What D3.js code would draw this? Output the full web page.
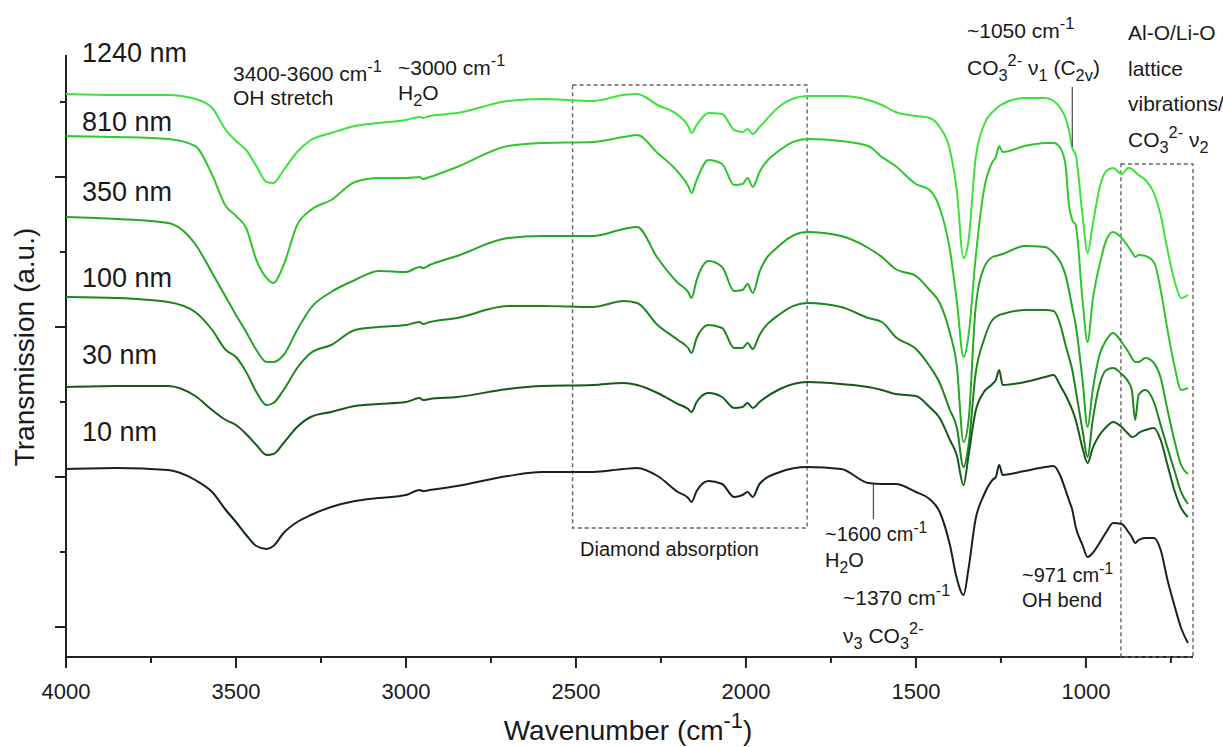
<!DOCTYPE html>
<html>
<head>
<meta charset="utf-8">
<script src="https://cdn.jsdelivr.net/npm/d3@7"></script>
<style>
  body { margin: 0; background: #fff; }
  text { font-family: "Liberation Sans", Arial, sans-serif; fill: #1a1a1a; }
</style>
</head>
<body>
<script>
// wavenumber grid (cm-1), shared by every spectrum
var wavenumber = [4000,3850,3700,3620,3570,3530,3500,3470,3440,3410,
  3390,3360,3320,3280,3220,3150,3080,3000,2960,2950,
  2930,2850,2700,2600,2450,2360,2320,2260,2200,2170,
  2160,2145,2110,2070,2035,2010,1995,1980,1960,1900,
  1820,1720,1640,1600,1560,1500,1460,1430,1400,1380,
  1360,1345,1325,1300,1275,1265,1255,1245,1180,1120,
  1095,1075,1060,1050,1040,1030,1010,995,980,960,
  940,920,895,875,865,855,845,825,800,780,
  760,740,720,700];

// transmission (a.u., curves already offset as in the figure)
var t1240 = [56.3,56.2,56.2,55.8,54.9,52.7,51.6,50.7,49.1,47.5,
  47.4,48.7,50.5,51.7,52.4,53.1,53.4,53.7,54.0,53.9,
  54.1,54.4,55.6,55.8,55.6,56.2,56.3,55.2,54.2,53.1,
  52.4,53.2,54.4,54.3,52.7,52.5,52.8,52.3,53.0,55.1,
  56.1,56.1,55.7,55.2,54.5,54.1,53.9,53.0,50.7,46.7,
  39.9,41.7,49.7,53.2,54.5,54.8,55.1,55.3,55.9,55.9,
  55.6,54.9,53.9,52.7,50.9,50.2,44.2,40.4,43.2,46.9,
  48.6,48.9,48.3,48.9,48.8,48.5,48.2,47.7,46.4,44.2,
  40.7,37.7,35.9,36.2];
var t810 = [52.1,52.0,51.8,51.1,48.2,45.1,44.1,42.9,39.7,37.9,
  37.4,39.2,43.2,44.7,45.7,47.5,47.9,47.9,48.0,47.8,
  48.0,49.0,51.1,51.4,51.5,52.0,52.2,50.4,48.5,47.1,
  46.4,47.7,49.7,49.3,47.2,47.3,47.9,47.0,48.5,50.7,
  51.8,51.6,51.1,50.0,49.1,47.3,46.7,44.9,40.7,35.7,
  30.0,32.2,39.7,46.7,49.5,50.0,51.1,50.5,51.1,51.4,
  51.4,50.9,49.2,45.2,43.7,43.2,35.7,31.5,35.7,39.2,
  41.7,42.5,41.9,41.0,40.5,40.0,40.2,40.1,39.5,36.7,
  32.7,29.2,26.7,26.9];
var t350 = [44.0,43.8,43.4,41.3,38.4,36.0,34.2,32.5,30.7,29.5,
  29.5,30.2,32.7,34.9,36.5,37.7,38.6,38.5,39.0,38.9,
  39.2,40.1,41.9,42.1,42.1,42.8,43.0,39.9,37.4,36.5,
  35.9,37.7,39.6,39.0,36.6,36.7,37.3,36.4,38.5,41.2,
  42.5,42.1,40.9,40.0,38.8,38.1,36.7,35.4,32.4,29.2,
  21.5,23.7,34.7,38.9,40.0,40.1,40.2,40.3,41.1,41.0,
  40.4,39.5,38.2,36.7,34.9,33.2,27.7,23.0,26.7,30.2,
  31.7,32.4,31.5,30.5,29.9,29.5,29.5,29.9,29.4,27.9,
  24.7,21.7,19.2,18.3];
var t100 = [36.0,35.9,35.5,34.5,32.7,30.7,30.0,28.5,26.5,25.2,
  25.4,26.7,28.9,30.4,31.2,32.7,33.0,33.2,33.5,33.3,
  33.5,33.9,35.1,35.1,35.0,35.6,35.4,33.2,31.7,30.9,
  30.4,31.9,33.2,32.9,30.9,30.9,31.4,30.8,32.2,34.3,
  35.4,35.0,33.9,33.5,32.0,30.8,29.1,27.4,24.7,23.0,
  19.0,21.2,28.2,31.7,33.7,34.0,34.2,34.3,34.7,34.7,
  34.6,33.2,31.2,30.0,28.7,26.7,22.7,20.0,23.7,27.2,
  28.7,28.9,28.3,27.5,26.7,23.7,26.2,26.7,25.5,23.2,
  20.9,18.7,16.5,15.3];
var t30 = [27.0,27.1,27.1,26.1,24.7,23.7,23.2,22.3,21.2,20.2,
  20.3,21.4,23.0,24.0,24.5,25.1,25.3,25.5,25.9,25.7,
  25.8,26.0,26.8,27.1,27.2,27.4,27.2,26.4,25.3,24.8,
  24.5,25.5,26.4,26.0,24.9,25.0,25.4,24.9,25.5,26.8,
  27.5,27.3,27.0,26.7,26.3,26.1,25.0,23.9,21.7,20.2,
  17.2,20.2,24.5,26.5,27.3,27.7,28.7,27.2,27.5,28.0,
  28.2,27.1,26.2,25.5,24.7,23.7,20.9,19.4,20.9,22.2,
  23.0,23.5,23.0,22.3,22.0,22.1,22.4,22.7,22.9,21.7,
  19.2,16.7,14.9,14.0];
var t10 = [18.8,18.9,18.7,17.7,16.5,14.7,13.5,12.2,11.1,10.8,
  11.1,12.4,13.5,14.2,15.0,15.6,15.9,16.2,16.7,16.6,
  16.7,17.1,18.1,18.5,18.5,18.8,18.9,18.1,16.5,15.9,
  15.5,16.6,17.6,17.3,16.0,16.2,16.5,16.0,17.3,18.5,
  19.0,18.8,17.4,17.3,17.3,16.5,15.8,14.5,11.2,7.9,
  6.2,8.9,13.7,16.2,17.7,18.0,19.2,18.2,18.6,19.0,
  19.1,18.1,16.7,15.7,14.7,13.0,11.2,10.0,10.4,11.4,
  12.5,13.4,13.3,12.5,12.0,11.4,11.7,11.9,11.9,10.7,
  7.7,5.2,2.9,1.4];

var seriesNames = ["1240 nm", "810 nm", "350 nm", "100 nm", "30 nm", "10 nm"];
var seriesValues = [t1240, t810, t350, t100, t30, t10];
var seriesColors = ["#3de33a", "#2ec82c", "#26a626", "#1d841f", "#17591b", "#13261a"];

var xMajor = [4000, 3500, 3000, 2500, 2000, 1500, 1000];
var xMinor = [3750, 3250, 2750, 2250, 1750, 1250, 750];
var yMajor = [3, 18, 33, 48];
var yMinor = [10.5, 25.5, 40.5, 55.5];

var width = 1223, height = 747;

var svg = d3.select("body").append("svg")
    .attr("width", width)
    .attr("height", height);

var x = d3.scaleLinear().domain([4000, 685]).range([66, 1193]);
var y = d3.scaleLinear().domain([0, 60.2]).range([657, 55]);

// axes
var xAxis = svg.append("g").attr("transform", "translate(0," + y(0) + ")");
xAxis.append("line").attr("x1", x(4000)).attr("x2", x(685))
    .attr("stroke", "#222").attr("stroke-width", 2);
xAxis.selectAll(".maj").data(xMajor).enter().append("line")
    .attr("x1", function(d){ return x(d); }).attr("x2", function(d){ return x(d); })
    .attr("y1", 0).attr("y2", 11).attr("stroke", "#222").attr("stroke-width", 2);
xAxis.selectAll(".min").data(xMinor).enter().append("line")
    .attr("x1", function(d){ return x(d); }).attr("x2", function(d){ return x(d); })
    .attr("y1", 0).attr("y2", 6).attr("stroke", "#222").attr("stroke-width", 2);
xAxis.selectAll(".lab").data(xMajor).enter().append("text")
    .attr("x", function(d){ return x(d); }).attr("y", 42)
    .attr("text-anchor", "middle").style("font-size", "22px")
    .text(function(d){ return d; });

var yAxis = svg.append("g").attr("transform", "translate(" + x(4000) + ",0)");
yAxis.append("line").attr("y1", y(0)).attr("y2", y(60.2))
    .attr("stroke", "#222").attr("stroke-width", 2);
yAxis.selectAll(".maj").data(yMajor).enter().append("line")
    .attr("y1", function(d){ return y(d); }).attr("y2", function(d){ return y(d); })
    .attr("x1", 0).attr("x2", -11).attr("stroke", "#222").attr("stroke-width", 2);
yAxis.selectAll(".min").data(yMinor).enter().append("line")
    .attr("y1", function(d){ return y(d); }).attr("y2", function(d){ return y(d); })
    .attr("x1", 0).attr("x2", -6).attr("stroke", "#222").attr("stroke-width", 2);

// dotted boxes
function box(w1, w2, v1, v2) {
  svg.append("rect")
    .attr("x", x(w1)).attr("y", y(v1))
    .attr("width", x(w2) - x(w1)).attr("height", y(v2) - y(v1))
    .attr("fill", "none").attr("stroke", "#666")
    .attr("stroke-width", 1.4).attr("stroke-dasharray", "4,3");
}
box(2510, 1820, 57.2, 12.9);
box(897, 685, 49.3, 0);

// spectra
var line = d3.line()
    .x(function(d){ return x(d[0]); })
    .y(function(d){ return y(d[1]); })
    .curve(d3.curveMonotoneX);

seriesValues.forEach(function(vals, i){
  svg.append("path")
    .datum(d3.zip(wavenumber, vals))
    .attr("d", line)
    .attr("fill", "none")
    .attr("stroke", seriesColors[i])
    .attr("stroke-width", 2);
});

// series labels
var labelBase = [62, 131, 201, 287, 364, 441];
seriesNames.forEach(function(n, i){
  svg.append("text").attr("x", 82).attr("y", labelBase[i])
    .style("font-size", "27px").text(n);
});

// text with sub/superscripts: parts = [[text, "sup"|"sub"|null], ...]
function rich(px, py, parts, size) {
  var t = svg.append("text").attr("x", px).attr("y", py).style("font-size", size + "px");
  var shift = 0;
  parts.forEach(function(p){
    var target = p[1] == "sup" ? -0.42 * size : (p[1] == "sub" ? 0.3 * size : 0);
    t.append("tspan")
      .attr("dy", target - shift)
      .style("font-size", (p[1] ? 0.78 * size : size) + "px")
      .text(p[0]);
    shift = target;
  });
  return t;
}

var fs = 21;
rich(233, 81, [["3400-3600 cm"], ["-1", "sup"]], fs);
rich(233, 105, [["OH stretch"]], fs);
rich(398, 75, [["~3000 cm"], ["-1", "sup"]], fs);
rich(398, 100, [["H"], ["2", "sub"], ["O"]], fs);

rich(967, 38, [["~1050 cm"], ["-1", "sup"]], fs);
rich(967, 75, [["CO"], ["3", "sub"], ["2-", "sup"], [" \u03bd"], ["1", "sub"], [" (C"], ["2v", "sub"], [")"]], fs);
rich(1128, 40, [["Al-O/Li-O"]], fs);
rich(1128, 76, [["lattice"]], fs);
rich(1128, 111, [["vibrations/"]], fs);
rich(1128, 147, [["CO"], ["3", "sub"], ["2-", "sup"], [" \u03bd"], ["2", "sub"]], fs);

rich(580, 556, [["Diamond absorption"]], 20);
rich(825, 541, [["~1600 cm"], ["-1", "sup"]], 20);
rich(825, 567, [["H"], ["2", "sub"], ["O"]], 20);
rich(843, 605, [["~1370 cm"], ["-1", "sup"]], fs);
rich(843, 643, [["\u03bd"], ["3", "sub"], [" CO"], ["3", "sub"], ["2-", "sup"]], fs);
rich(1022, 582, [["~971 cm"], ["-1", "sup"]], 20);
rich(1022, 607, [["OH bend"]], 20);

// leader lines
svg.append("line").attr("x1", x(1040)).attr("x2", x(1040))
  .attr("y1", 87).attr("y2", 147).attr("stroke", "#555").attr("stroke-width", 1.3);
svg.append("line").attr("x1", x(1625)).attr("x2", x(1625))
  .attr("y1", y(17.3)).attr("y2", 519).attr("stroke", "#555").attr("stroke-width", 1.3);

// axis titles
rich(628, 740, [["Wavenumber (cm"], ["-1", "sup"], [")"]], 28).attr("text-anchor", "middle");
svg.append("text")
  .attr("transform", "translate(34,347) rotate(-90)")
  .attr("text-anchor", "middle")
  .style("font-size", "28px")
  .text("Transmission (a.u.)");
</script>
</body>
</html>
